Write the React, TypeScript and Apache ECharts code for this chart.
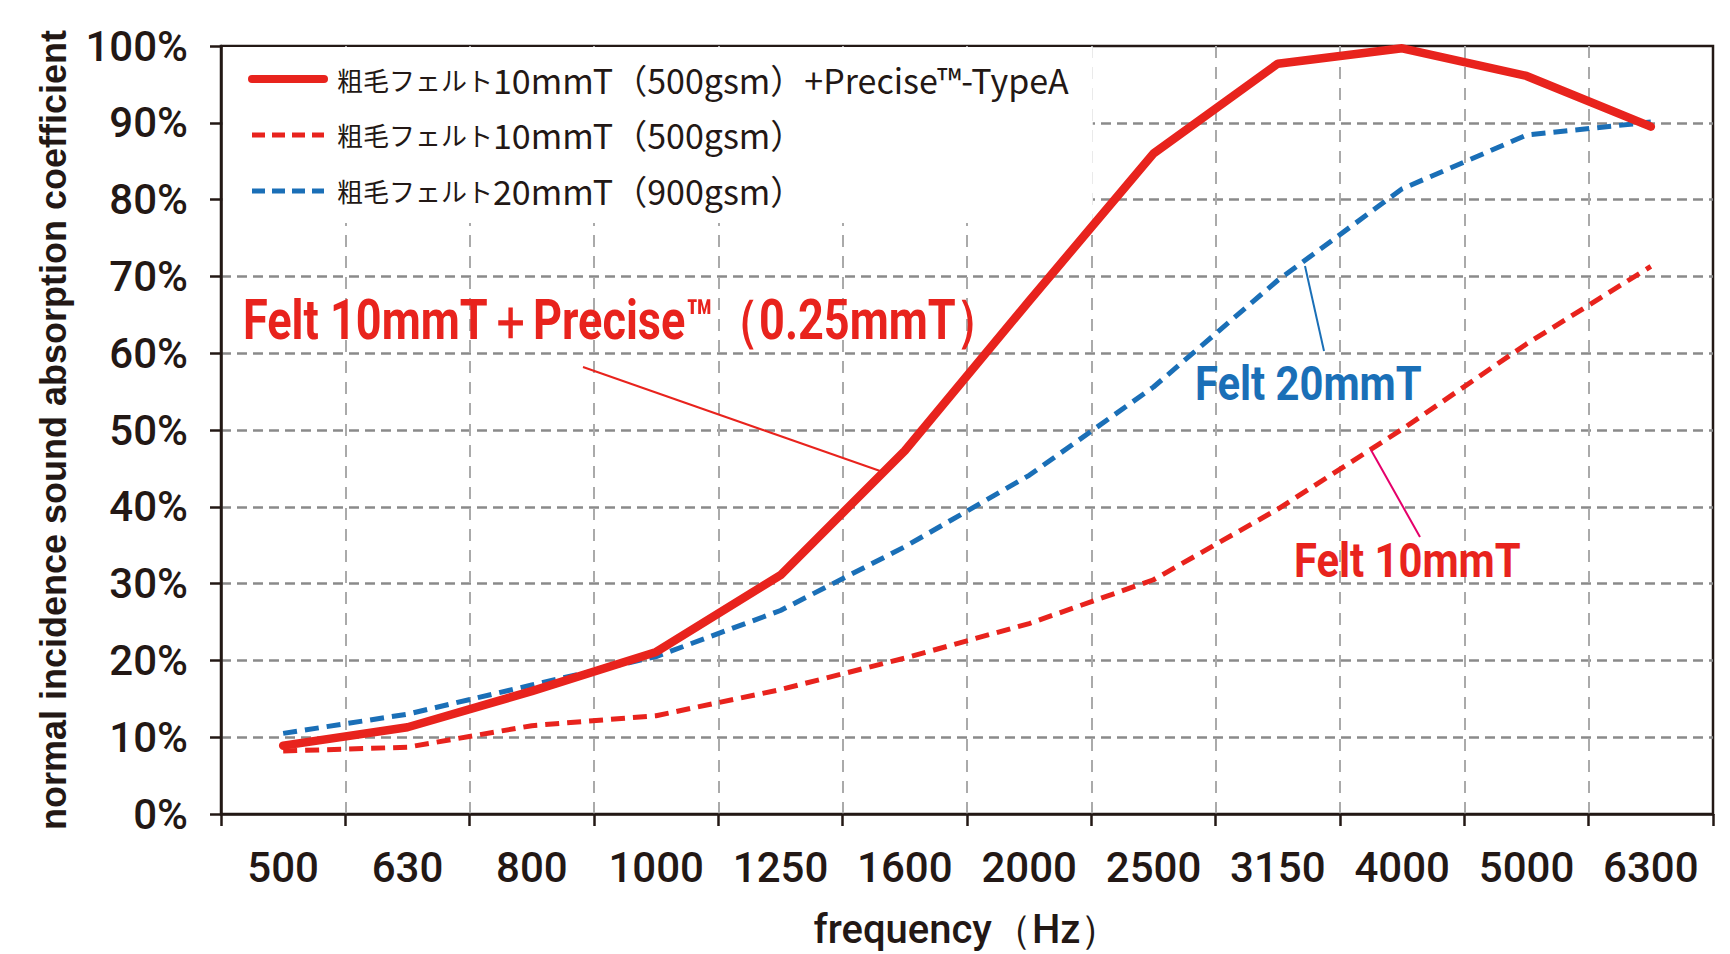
import React, { useEffect, useRef } from "react";
import * as echarts from "echarts";

const frequencies = ["500", "630", "800", "1000", "1250", "1600", "2000", "2500", "3150", "4000", "5000", "6300"];
const feltPrecise = [8.9, 11.3, 16.0, 21.1, 31.1, 47.3, 66.8, 86.0, 97.7, 99.7, 96.1, 89.5];
const felt10 = [8.2, 8.7, 11.5, 12.8, 16.2, 20.3, 24.8, 30.5, 39.7, 50.1, 61.2, 71.3];
const felt20 = [10.5, 13.0, 16.8, 20.5, 26.5, 34.8, 44.1, 55.6, 69.5, 81.4, 88.4, 90.1];
const seriesNames = [
  "粗毛フェルト10mmT（500gsm）+Precise™-TypeA",
  "粗毛フェルト10mmT（500gsm）",
  "粗毛フェルト20mmT（900gsm）",
];

const RED = "#e8231d";
const BLUE = "#1a6fb7";
const INK = "#231815";
const COND = 'Roboto, "Noto Sans", sans-serif';
const CJK = '"Noto Sans CJK JP", sans-serif';

export default function App() {
  const ref = useRef<HTMLDivElement>(null);
  useEffect(() => {
    document.body.style.margin = "0";
    const chart = echarts.init(ref.current!, null, { renderer: "svg" });
    chart.setOption({
      animation: false,
      backgroundColor: "#fff",
      grid: {
        left: 221,
        right: 17,
        top: 46,
        bottom: 138,
        show: true,
        borderColor: INK,
        borderWidth: 2.5,
        backgroundColor: "transparent",
      },
      legend: {
        orient: "vertical",
        left: 223,
        top: 47,
        backgroundColor: "#fff",
        padding: [15, 24, 15, 25],
        itemGap: 22,
        itemWidth: 72,
        itemHeight: 14,
        itemStyle: { opacity: 0 },
        formatter: (name: string) => `{j|${name.slice(0, 6)}}{l|${name.slice(6)}}`,
        textStyle: {
          color: INK,
          fontFamily: CJK,
          rich: {
            j: { fontSize: 26, fontFamily: CJK, color: INK, lineHeight: 30, padding: [0, 0, 0, 8] },
            l: { fontSize: 34, fontFamily: CJK, color: INK, lineHeight: 30 },
          },
        },
        data: [
          { name: seriesNames[0], lineStyle: { width: 8, color: RED, type: "solid", cap: "round" } },
          { name: seriesNames[1], lineStyle: { width: 5, color: RED, type: [13, 7] } },
          { name: seriesNames[2], lineStyle: { width: 5, color: BLUE, type: [13, 7] } },
        ],
      },
      xAxis: {
        type: "category",
        data: frequencies,
        boundaryGap: true,
        axisLine: { lineStyle: { color: INK, width: 2.5 } },
        axisTick: { show: true, length: 12, lineStyle: { color: INK, width: 2.5 } },
        axisLabel: { fontSize: 42, fontWeight: 500, fontFamily: COND, color: INK, margin: 32 },
        splitLine: {
          show: true,
          showMinLine: false,
          showMaxLine: false,
          lineStyle: { type: [12, 9], color: "#aaaaaa", width: 2 },
        },
        name: "frequency（Hz）",
        nameLocation: "middle",
        nameGap: 95,
        nameTextStyle: { fontSize: 40, fontWeight: 500, fontFamily: COND, color: INK },
      },
      yAxis: {
        type: "value",
        min: 0,
        max: 100,
        interval: 10,
        axisLine: { show: true, lineStyle: { color: INK, width: 2.5 } },
        axisTick: { show: true, length: 11, lineStyle: { color: INK, width: 2.5 } },
        axisLabel: { formatter: "{value}%", fontSize: 42, fontWeight: 500, fontFamily: COND, color: INK, margin: 33 },
        splitLine: {
          show: true,
          showMinLine: false,
          showMaxLine: false,
          lineStyle: { type: [10, 6], color: "#8a8a8a", width: 2.5 },
        },
        name: "normal incidence sound absorption coefficient",
        nameLocation: "middle",
        nameGap: 150,
        nameTextStyle: { fontSize: 36, fontWeight: "bold", fontFamily: '"Liberation Sans", sans-serif', color: INK },
      },
      series: [
        {
          name: seriesNames[0],
          type: "line",
          data: feltPrecise,
          symbol: "none",
          z: 5,
          lineStyle: { color: RED, width: 8.5, cap: "round" },
          itemStyle: { color: RED },
        },
        {
          name: seriesNames[1],
          type: "line",
          data: felt10,
          symbol: "none",
          z: 4,
          lineStyle: { color: RED, width: 5, type: [14, 8] },
          itemStyle: { color: RED },
        },
        {
          name: seriesNames[2],
          type: "line",
          data: felt20,
          symbol: "none",
          z: 3,
          lineStyle: { color: BLUE, width: 5, type: [14, 8] },
          itemStyle: { color: BLUE },
        },
      ],
      graphic: [
        {
          type: "text",
          x: 243,
          y: 320,
          scaleX: 0.805,
          z: 20,
          style: {
            text: "Felt 10mmT＋Precise™（0.25mmT）",
            fill: RED,
            fontSize: 56,
            fontWeight: "bold",
            fontFamily: COND,
            verticalAlign: "middle",
          },
        },
        { type: "line", z: 20, shape: { x1: 583, y1: 367, x2: 883, y2: 472 }, style: { stroke: RED, lineWidth: 2 } },
        {
          type: "text",
          x: 1195,
          y: 383,
          scaleX: 0.87,
          z: 20,
          style: {
            text: "Felt 20mmT",
            fill: BLUE,
            fontSize: 48,
            fontWeight: "bold",
            fontFamily: COND,
            verticalAlign: "middle",
          },
        },
        { type: "line", z: 20, shape: { x1: 1305, y1: 266, x2: 1324, y2: 351 }, style: { stroke: BLUE, lineWidth: 2 } },
        {
          type: "text",
          x: 1294,
          y: 560,
          scaleX: 0.87,
          z: 20,
          style: {
            text: "Felt 10mmT",
            fill: RED,
            fontSize: 48,
            fontWeight: "bold",
            fontFamily: COND,
            verticalAlign: "middle",
          },
        },
        { type: "line", z: 20, shape: { x1: 1371, y1: 450, x2: 1420, y2: 537 }, style: { stroke: "#e5006a", lineWidth: 2 } },
      ],
    });
    return () => chart.dispose();
  }, []);
  return <div ref={ref} style={{ width: 1730, height: 954 }} />;
}
